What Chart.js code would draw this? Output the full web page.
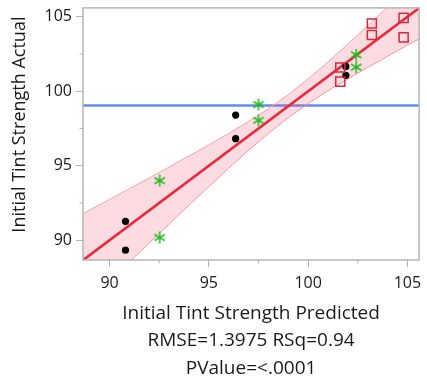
<!DOCTYPE html>
<html>
<head>
<meta charset="utf-8">
<script src="https://cdn.jsdelivr.net/npm/chart.js@4.4.1/dist/chart.umd.min.js"></script>
<style>
  html, body { margin: 0; padding: 0; background: #fff; }
</style>
</head>
<body>
<canvas id="fit-chart" width="427" height="383"></canvas>
<script>
// values (actual by predicted)
const squaresPred = [103.21, 103.21, 104.81, 104.81, 101.62, 101.62];
const squaresActual = [104.55, 103.78, 104.93, 103.62, 101.60, 100.65];
const dotsPred = [101.90, 101.90, 96.35, 96.35, 90.80, 90.80];
const dotsActual = [101.67, 101.07, 98.40, 96.82, 91.27, 89.33];
const starsPred = [102.42, 102.42, 97.50, 97.50, 92.52, 92.52];
const starsActual = [102.45, 101.62, 99.11, 98.05, 94.00, 90.18];

// fit line, mean line and confidence curves
const fitX = [88.66, 105.59];
const fitY = [88.66, 105.59];
const meanActual = 99.05;
const bandX = [88.66, 89, 90, 91, 92, 93, 94, 95, 96, 97, 98, 99, 100, 101, 102, 103, 104, 105, 105.59];
const bandUpper = [91.77, 92.02, 92.74, 93.46, 94.18, 94.91, 95.65, 96.40, 97.17, 97.97, 98.83, 99.77, 100.83, 101.97, 103.17, 104.40, 105.65, 106.91, 107.66];
const bandLower = [85.55, 85.98, 87.26, 88.54, 89.82, 91.09, 92.35, 93.60, 94.83, 96.03, 97.17, 98.23, 99.17, 100.03, 100.83, 101.60, 102.35, 103.09, 103.52];

const tickValues = [90, 92.5, 95, 97.5, 100, 102.5, 105];
const xTitle = ['Initial Tint Strength Predicted', 'RMSE=1.3975 RSq=0.94', 'PValue=<.0001'];
// leading spaces nudge the rotated title up a little, as in the reference
const yTitle = '    Initial Tint Strength Actual';

const toPts = (xs, ys) => xs.map((v, i) => ({ x: v, y: ys[i] }));

function makeStar(color, r) {
    const c = document.createElement('canvas');
    const s = Math.ceil(r * 2 + 2);
    c.width = s;
    c.height = s;
    const g = c.getContext('2d');
    g.strokeStyle = color;
    g.lineWidth = 1.5;
    const m = s / 2;
    for (let k = 0; k < 3; k++) {
        const a = Math.PI / 2 + k * Math.PI / 3;
        g.beginPath();
        g.moveTo(m + r * Math.cos(a), m + r * Math.sin(a));
        g.lineTo(m - r * Math.cos(a), m - r * Math.sin(a));
        g.stroke();
    }
    return c;
}

const frameColor = '#b5b5b5';
const textColor = '#1a1a1a';
const font = "'Open Sans', 'Noto Sans', sans-serif";

// frame round the plot and the short minor ticks
const frameAndMinorTicks = {
    id: 'frameAndMinorTicks',
    afterDraw(chart) {
        const { ctx, chartArea: a, scales: { x, y } } = chart;
        ctx.save();
        ctx.strokeStyle = frameColor;
        ctx.lineWidth = 1.5;
        ctx.strokeRect(a.left, a.top, a.right - a.left, a.bottom - a.top);
        ctx.lineWidth = 1;
        ctx.beginPath();
        tickValues.filter(v => v % 5 !== 0).forEach(v => {
            const px = x.getPixelForValue(v);
            ctx.moveTo(px, a.bottom);
            ctx.lineTo(px, a.bottom + 3.5);
            const py = y.getPixelForValue(v);
            ctx.moveTo(a.left, py);
            ctx.lineTo(a.left - 3.5, py);
        });
        ctx.stroke();
        ctx.restore();
    }
};

function axisOptions(min, max) {
    return {
        type: 'linear',
        min: min,
        max: max,
        afterBuildTicks: scale => {
            scale.ticks = tickValues.map(v => ({ value: v }));
        },
        ticks: {
            autoSkip: false,
            color: textColor,
            font: { family: font, size: 16 },
            callback: value => (value % 5 === 0 ? String(value) : '')
        },
        grid: {
            drawOnChartArea: false,
            tickLength: 7,
            tickWidth: 1,
            tickColor: c => (c.tick && c.tick.value % 5 === 0 ? frameColor : 'rgba(0,0,0,0)')
        },
        border: { display: false }
    };
}

const xAxis = axisOptions(88.66, 105.59);
xAxis.position = 'bottom';
xAxis.ticks.padding = 7;
xAxis.title = {
    display: true,
    text: xTitle,
    color: textColor,
    font: { family: font, size: 19, lineHeight: 1.45 },
    padding: { top: 0, bottom: 1 }
};
xAxis.afterFit = scale => {
    scale.height = 123;
    scale.paddingLeft = 0;
    scale.paddingRight = 0;
};

const yAxis = axisOptions(88.67, 105.6);
yAxis.position = 'left';
yAxis.ticks.padding = 4;
yAxis.title = {
    display: true,
    text: yTitle,
    color: textColor,
    font: { family: font, size: 18, lineHeight: 1.2 },
    padding: { top: 9, bottom: 0 }
};
yAxis.afterFit = scale => {
    scale.width = 83;
    scale.paddingTop = 0;
    scale.paddingBottom = 0;
};

const ctx = document.getElementById('fit-chart').getContext('2d');
const chart = new Chart(ctx, {
    type: 'scatter',
    data: {
        datasets: [
            {
                label: 'squares',
                data: toPts(squaresPred, squaresActual),
                pointStyle: 'rect',
                pointRadius: 6.4,
                pointBorderWidth: 1.5,
                pointBorderColor: '#d42a40',
                pointBackgroundColor: 'rgba(0,0,0,0)',
                order: 0
            },
            {
                label: 'dots',
                data: toPts(dotsPred, dotsActual),
                pointStyle: 'circle',
                pointRadius: 3.6,
                pointBorderWidth: 0,
                pointBackgroundColor: '#000',
                order: 0
            },
            {
                label: 'stars',
                data: toPts(starsPred, starsActual),
                pointStyle: makeStar('#22b822', 6),
                order: 0
            },
            {
                label: 'fit',
                data: toPts(fitX, fitY),
                showLine: true,
                borderColor: '#e8283c',
                borderWidth: 2.6,
                pointRadius: 0,
                order: 1
            },
            {
                label: 'upper',
                data: toPts(bandX, bandUpper),
                showLine: true,
                borderColor: '#f4a0aa',
                borderWidth: 1,
                backgroundColor: 'rgba(240,80,100,0.2)',
                fill: '+1',
                pointRadius: 0,
                order: 2
            },
            {
                label: 'lower',
                data: toPts(bandX, bandLower),
                showLine: true,
                borderColor: '#f4a0aa',
                borderWidth: 1,
                pointRadius: 0,
                fill: false,
                order: 2
            },
            {
                label: 'mean',
                data: toPts(fitX, [meanActual, meanActual]),
                showLine: true,
                borderColor: '#5e8ef0',
                borderWidth: 2.6,
                pointRadius: 0,
                order: 3
            }
        ]
    },
    options: {
        responsive: false,
        animation: false,
        layout: { padding: { left: 0, right: 7, top: 6, bottom: 0 } },
        plugins: {
            legend: { display: false },
            tooltip: { enabled: false }
        },
        scales: {
            x: xAxis,
            y: yAxis
        }
    },
    plugins: [frameAndMinorTicks]
});
</script>
</body>
</html>
